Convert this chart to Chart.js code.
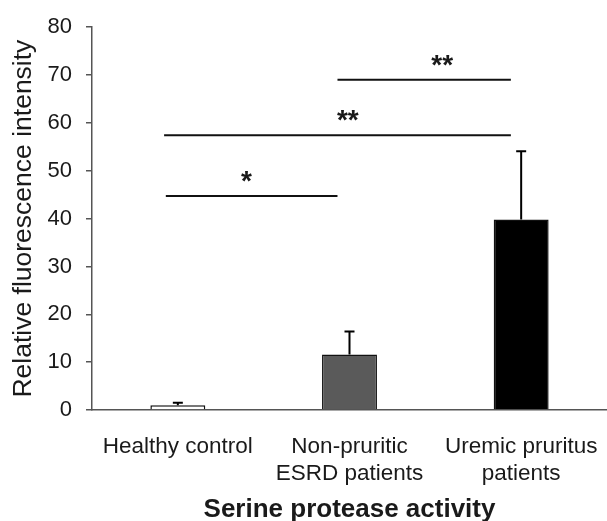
<!DOCTYPE html>
<html>
<head>
<meta charset="utf-8">
<script src="https://cdn.jsdelivr.net/npm/chart.js@4"></script>
<style>
  html, body { margin: 0; padding: 0; background: #fff; }
  #wrap { width: 607px; height: 521px; }
</style>
</head>
<body>
<div id="wrap"><canvas id="chart"></canvas></div>
<script>
'use strict';

// ── DATA ────────────────────────────────────────────────────────────────────
const CATEGORIES = [['Healthy control'], ['Non-pruritic', 'ESRD patients'], ['Uremic pruritus', 'patients']];
const MEANS      = [1.0, 11.6, 39.8];
const ERR_PLUS   = [0.5, 4.8, 14.3];
const BAR_FILLS  = ['#ffffff', '#5a5a5a', '#000000'];
const Y_TICKS    = [0, 10, 20, 30, 40, 50, 60, 70, 80];

// significance bars: ends in category-index units, level in y units
const SIG_FROM   = [-0.07, -0.08, 0.93];
const SIG_TO     = [0.93, 1.94, 1.94];
const SIG_LEVEL  = [44.7, 57.4, 69.0];
const SIG_TEXT   = ['*', '**', '**'];
const SIG_TEXT_X = [0.40, 0.99, 1.54];

const FONT = "'Liberation Sans', Arial, sans-serif";
const INK = '#1a1a1a';

// ── OVERLAY: error bars + significance ──────────────────────────────────────
function catPixel(xs, v) {
  const p0 = xs.getPixelForValue(0);
  const p1 = xs.getPixelForValue(1);
  return p0 + v * (p1 - p0);
}

const overlay = {
  id: 'overlay',
  afterDatasetsDraw(chart) {
    const { ctx } = chart;
    const xs = chart.scales.x, ys = chart.scales.y;
    ctx.save();
    ctx.strokeStyle = '#000';
    ctx.lineWidth = 2;
    MEANS.forEach((m, i) => {
      const x = xs.getPixelForValue(i);
      const y0 = ys.getPixelForValue(m);
      const y1 = ys.getPixelForValue(m + ERR_PLUS[i]);
      ctx.beginPath();
      ctx.moveTo(x, y0); ctx.lineTo(x, y1);
      ctx.moveTo(x - 5, y1); ctx.lineTo(x + 5, y1);
      ctx.stroke();
    });

    ctx.strokeStyle = '#111';
    ctx.lineWidth = 2;
    ctx.fillStyle = INK;
    ctx.font = 'bold 28px ' + FONT;
    ctx.textAlign = 'center';
    ctx.textBaseline = 'middle';
    SIG_LEVEL.forEach((lv, i) => {
      const y = ys.getPixelForValue(lv);
      ctx.beginPath();
      ctx.moveTo(catPixel(xs, SIG_FROM[i]), y);
      ctx.lineTo(catPixel(xs, SIG_TO[i]), y);
      ctx.stroke();
      // asterisk glyph sits high in the em box, so push the text down a bit
      ctx.fillText(SIG_TEXT[i], catPixel(xs, SIG_TEXT_X[i]), y - 18 + 4);
    });
    ctx.restore();
  }
};

// ── CHART ───────────────────────────────────────────────────────────────────
new Chart(document.getElementById('chart'), {
  type: 'bar',
  data: {
    labels: CATEGORIES,
    datasets: [{
      data: MEANS,
      backgroundColor: BAR_FILLS,
      borderColor: '#111',
      borderWidth: 1.5,
      barPercentage: 0.32,
      categoryPercentage: 1
    }]
  },
  plugins: [overlay],
  options: {
    responsive: true,
    maintainAspectRatio: false,
    animation: false,
    layout: { padding: { top: 9, right: 0, left: 0, bottom: 0 } },
    plugins: { legend: { display: false }, tooltip: { enabled: false } },
    scales: {
      x: {
        afterFit: s => { s.height = 111; s.paddingRight = 0; s.paddingLeft = 0; },
        grid: { display: false, drawTicks: false },
        border: { display: true, color: '#555', width: 1.5 },
        ticks: { color: INK, font: { family: FONT, size: 22.5 }, padding: 23, maxRotation: 0 },
        title: {
          display: true,
          text: 'Serine protease activity',
          color: INK,
          font: { family: FONT, size: 26, weight: 'bold' },
          padding: { top: 2, bottom: -4 }
        }
      },
      y: {
        min: 0,
        max: 80,
        afterBuildTicks: s => { s.ticks = Y_TICKS.map(v => ({ value: v })); },
        afterFit: s => { s.width = 92; },
        grid: { drawOnChartArea: false, drawTicks: true, tickLength: 6, color: '#555', lineWidth: 1.5 },
        border: { display: true, color: '#555', width: 1.5 },
        ticks: { color: INK, font: { family: FONT, size: 22 }, padding: 14 },
        title: {
          display: true,
          text: 'Relative fluorescence intensity',
          color: INK,
          font: { family: FONT, size: 26.5 },
          padding: { top: 8, bottom: 4 }
        }
      }
    }
  }
});
</script>
</body>
</html>
